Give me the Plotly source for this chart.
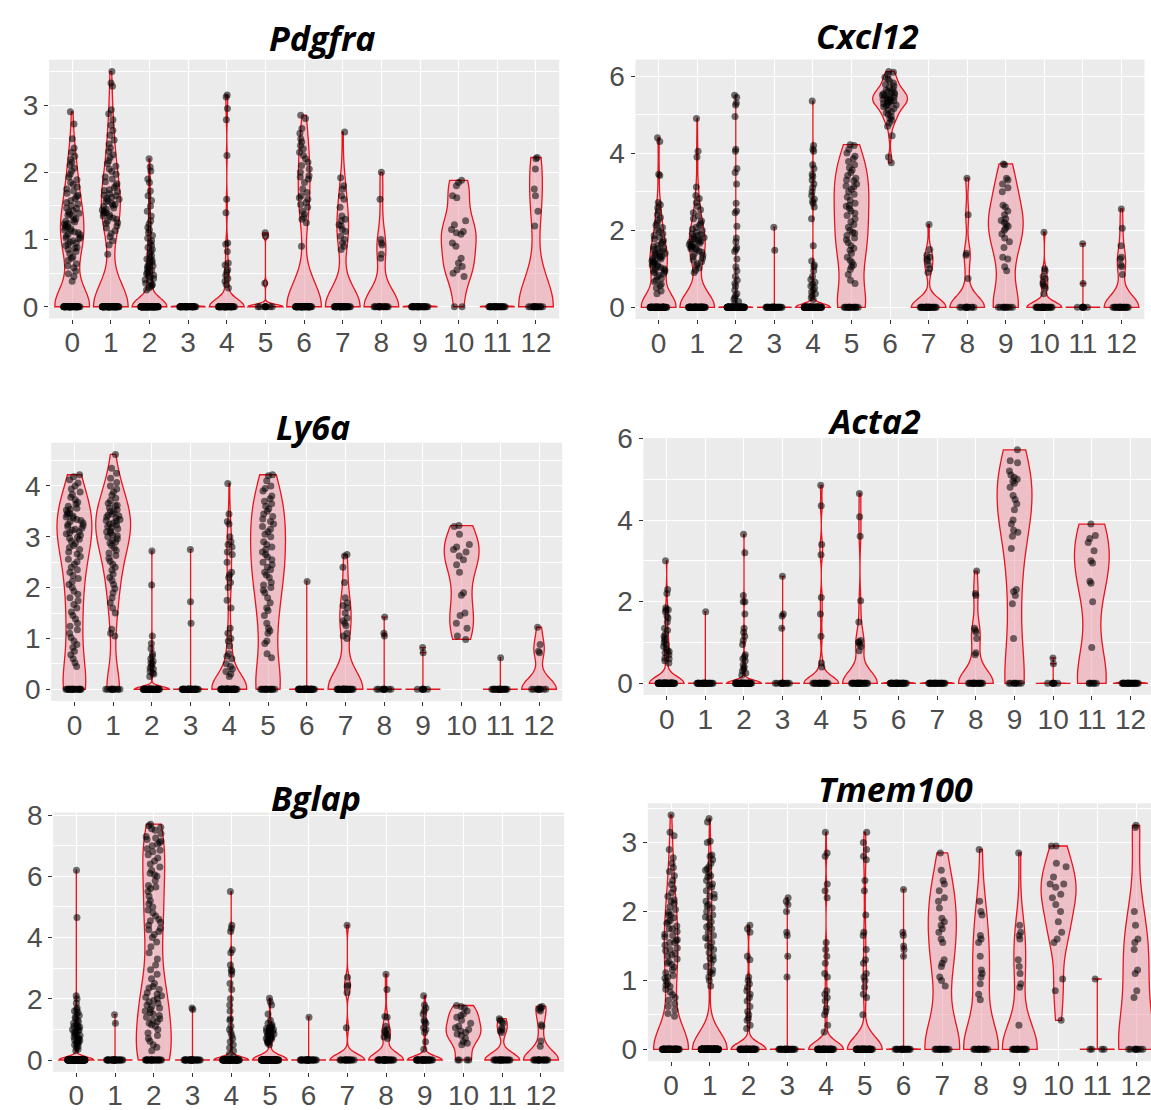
import numpy as np
import plotly.graph_objects as go

CLUSTERS = [str(i) for i in range(13)]
GENES = ["Pdgfra", "Cxcl12", "Ly6a", "Acta2", "Bglap", "Tmem100"]

# number of cells with zero expression per cluster
pdgfra_zeros = [50, 65, 100, 40, 45, 9, 55, 35, 18, 30, 2, 25, 14]
cxcl12_zeros = [60, 65, 110, 30, 90, 15, 0, 25, 12, 10, 25, 7, 20]
ly6a_zeros = [20, 12, 52, 40, 50, 15, 40, 30, 10, 7, 0, 20, 10]
acta2_zeros = [70, 30, 55, 13, 20, 25, 30, 25, 18, 8, 7, 6, 25]
bglap_zeros = [120, 30, 25, 30, 70, 80, 30, 17, 30, 35, 4, 22, 18]
tmem100_zeros = [70, 150, 55, 25, 55, 55, 19, 15, 16, 18, 0, 4, 9]

# non-zero expression values per cluster (read from the jittered points)
pdgfra_expr = [
    [0.38, 0.45, 0.49, 0.53, 0.58, 0.61, 0.64, 0.69, 0.72, 0.74, 0.79, 0.82, 0.85, 0.87, 0.91, 0.93, 0.96, 0.98,
     1.01, 1.03, 1.05, 1.07, 1.1, 1.11, 1.14, 1.16, 1.18, 1.21, 1.23, 1.24, 1.27, 1.29, 1.31, 1.34, 1.36, 1.38,
     1.41, 1.43, 1.46, 1.47, 1.5, 1.53, 1.55, 1.58, 1.61, 1.64, 1.66, 1.69, 1.72, 1.75, 1.78, 1.82, 1.85, 1.89,
     1.93, 1.97, 2.02, 2.06, 2.11, 2.15, 2.19, 2.24, 2.3, 2.36, 2.5, 2.72, 2.9, 0.88, 1.02, 1.13, 1.26, 1.39,
     0.95, 1.19, 1.08],
    [0.78, 0.92, 0.98, 1.04, 1.09, 1.13, 1.17, 1.2, 1.24, 1.27, 1.3, 1.32, 1.35, 1.37, 1.4, 1.42, 1.44, 1.47,
     1.49, 1.51, 1.54, 1.56, 1.58, 1.61, 1.63, 1.66, 1.68, 1.71, 1.74, 1.77, 1.8, 1.83, 1.86, 1.9, 1.93, 1.97,
     2.01, 2.05, 2.09, 2.13, 2.17, 2.22, 2.26, 2.31, 2.36, 2.42, 2.48, 2.55, 2.62, 2.7, 2.78, 2.87, 2.93, 3.28,
     3.33, 3.5, 1.45, 1.52, 1.6, 1.39, 1.34, 1.65, 1.25, 1.73],
    [0.25, 0.28, 0.3, 0.33, 0.35, 0.37, 0.4, 0.42, 0.44, 0.47, 0.49, 0.51, 0.54, 0.56, 0.59, 0.61, 0.63, 0.66,
     0.68, 0.71, 0.73, 0.76, 0.79, 0.82, 0.85, 0.88, 0.91, 0.95, 0.98, 1.02, 1.06, 1.1, 1.14, 1.18, 1.23, 1.28,
     1.35, 1.42, 1.5, 1.58, 1.65, 1.72, 1.85, 1.9, 2.02, 2.08, 2.2, 0.32, 0.46, 0.53, 0.6, 0.69],
    [],
    [0.28, 0.33, 0.38, 0.42, 0.47, 0.52, 0.55, 0.62, 0.65, 0.82, 0.93, 0.95, 1.4, 1.6, 2.25, 2.78, 2.95, 3.12, 3.15],
    [0.35, 1.05, 1.1],
    [0.9, 1.25, 1.3, 1.33, 1.38, 1.42, 1.48, 1.52, 1.55, 1.6, 1.62, 1.65, 1.7, 1.75, 1.85, 1.9, 1.93, 1.95, 2.0,
     2.05, 2.1, 2.15, 2.2, 2.25, 2.3, 2.35, 2.4, 2.45, 2.5, 2.58, 2.65, 2.8, 2.85],
    [0.85, 0.9, 0.95, 1.0, 1.05, 1.12, 1.15, 1.2, 1.22, 1.28, 1.3, 1.35, 1.48, 1.6, 1.65, 1.75, 1.8, 1.92, 2.6],
    [0.72, 0.78, 0.92, 0.95, 1.0, 1.6, 2.0],
    [],
    [0.45, 0.5, 0.55, 0.6, 0.65, 0.72, 0.9, 0.95, 1.08, 1.1, 1.12, 1.15, 1.22, 1.28, 1.62, 1.65, 1.8, 1.85, 1.88],
    [],
    [1.2, 1.42, 1.65, 1.75, 2.05, 2.2, 2.22],
]

cxcl12_expr = [
    [0.35, 0.42, 0.5, 0.56, 0.6, 0.66, 0.7, 0.75, 0.79, 0.83, 0.87, 0.9, 0.94, 0.97, 1.0, 1.03, 1.06, 1.09, 1.12,
     1.15, 1.18, 1.2, 1.23, 1.26, 1.29, 1.32, 1.35, 1.38, 1.41, 1.44, 1.47, 1.5, 1.54, 1.57, 1.61, 1.65, 1.69,
     1.73, 1.77, 1.82, 1.86, 1.91, 1.96, 2.01, 2.07, 2.13, 2.19, 2.26, 2.33, 2.41, 2.5, 2.58, 2.66, 2.72, 3.42,
     3.45, 4.3, 4.4, 1.1, 1.25, 1.4, 0.98, 1.33, 1.52, 0.92],
    [0.9, 0.96, 1.02, 1.08, 1.13, 1.18, 1.23, 1.27, 1.31, 1.35, 1.39, 1.43, 1.46, 1.5, 1.53, 1.56, 1.6, 1.63,
     1.66, 1.69, 1.72, 1.75, 1.78, 1.81, 1.84, 1.88, 1.91, 1.95, 1.99, 2.03, 2.08, 2.13, 2.18, 2.24, 2.3, 2.37,
     2.45, 2.53, 2.62, 2.72, 2.82, 2.9, 3.12, 3.9, 4.05, 4.9, 1.58, 1.7, 1.86, 1.64, 1.77, 1.52],
    [0.1, 0.15, 0.2, 0.25, 0.3, 0.35, 0.45, 0.55, 0.62, 0.7, 0.8, 0.95, 1.05, 1.25, 1.45, 1.5, 1.55, 1.7, 1.8,
     2.1, 2.45, 2.5, 2.7, 3.2, 3.5, 3.6, 4.05, 4.1, 4.95, 5.25, 5.3, 5.45, 5.5],
    [1.48, 2.08],
    [0.2, 0.25, 0.3, 0.35, 0.4, 0.45, 0.5, 0.55, 0.6, 0.65, 0.72, 0.8, 0.95, 1.05, 1.1, 1.2, 1.6, 2.3, 2.6, 2.7,
     2.75, 2.8, 2.9, 3.0, 3.1, 3.2, 3.3, 3.4, 3.45, 3.6, 3.7, 4.05, 4.1, 4.2, 5.35],
    [0.62, 0.7, 0.85, 0.98, 1.05, 1.1, 1.16, 1.22, 1.3, 1.4, 1.48, 1.53, 1.6, 1.68, 1.75, 1.8, 1.86, 1.92, 2.0,
     2.08, 2.15, 2.22, 2.3, 2.38, 2.44, 2.5, 2.56, 2.62, 2.7, 2.78, 2.86, 2.93, 3.0, 3.06, 3.12, 3.2, 3.28, 3.35,
     3.42, 3.5, 3.56, 3.62, 3.7, 3.78, 3.86, 3.92, 4.0, 4.1, 4.2, 4.22, 1.95, 2.65, 3.15, 3.3],
    [3.75, 3.9, 4.45, 4.7, 4.78, 4.85, 4.9, 4.95, 5.0, 5.04, 5.08, 5.12, 5.16, 5.2, 5.23, 5.26, 5.29, 5.32, 5.35,
     5.38, 5.4, 5.43, 5.46, 5.48, 5.51, 5.54, 5.57, 5.6, 5.63, 5.66, 5.7, 5.74, 5.78, 5.82, 5.87, 5.92, 5.97,
     6.03, 6.1, 6.12, 5.36, 5.44, 5.52, 5.3, 5.58, 5.25, 5.41],
    [0.9, 1.0, 1.1, 1.2, 1.25, 1.3, 1.35, 1.5, 2.15],
    [0.75, 1.35, 1.4, 2.4, 3.35],
    [0.95, 1.05, 1.25, 1.3, 1.55, 1.7, 1.8, 1.9, 2.0, 2.05, 2.1, 2.15, 2.2, 2.25, 2.3, 2.4, 2.5, 2.6, 2.65, 3.0,
     3.1, 3.2, 3.3, 3.35, 3.7, 3.72],
    [0.35, 0.5, 0.55, 0.6, 0.65, 0.75, 0.8, 0.95, 1.0, 1.95],
    [0.62, 1.65],
    [0.85, 1.05, 1.1, 1.25, 1.3, 1.6, 2.05, 2.55],
]

ly6a_expr = [
    [0.45, 0.52, 0.6, 0.68, 0.75, 0.82, 0.88, 0.95, 1.02, 1.1, 1.17, 1.24, 1.3, 1.38, 1.45, 1.52, 1.6, 1.67, 1.74,
     1.8, 1.87, 1.93, 2.0, 2.06, 2.12, 2.18, 2.24, 2.3, 2.35, 2.4, 2.46, 2.51, 2.56, 2.61, 2.66, 2.7, 2.75, 2.79,
     2.83, 2.87, 2.91, 2.95, 2.99, 3.03, 3.06, 3.1, 3.13, 3.17, 3.2, 3.24, 3.27, 3.3, 3.34, 3.37, 3.41, 3.44,
     3.48, 3.52, 3.56, 3.6, 3.64, 3.68, 3.73, 3.78, 3.83, 3.88, 3.94, 4.0, 4.06, 4.12, 4.18, 4.22, 3.15, 3.22,
     3.32, 3.39, 3.46, 2.97, 3.08, 3.54],
    [1.05, 1.1, 1.18, 1.5, 1.6, 1.7, 1.8, 1.9, 1.98, 2.06, 2.14, 2.2, 2.27, 2.34, 2.4, 2.46, 2.52, 2.58, 2.63,
     2.68, 2.73, 2.78, 2.83, 2.88, 2.92, 2.96, 3.0, 3.04, 3.08, 3.12, 3.16, 3.2, 3.23, 3.27, 3.3, 3.34, 3.37,
     3.41, 3.45, 3.49, 3.53, 3.57, 3.61, 3.66, 3.71, 3.76, 3.82, 3.88, 3.94, 4.0, 4.07, 4.15, 4.25, 4.35, 4.62,
     3.18, 3.25, 3.32, 3.39, 3.1, 3.43, 3.02, 2.9, 3.5, 3.62],
    [0.25, 0.3, 0.32, 0.35, 0.4, 0.42, 0.45, 0.5, 0.52, 0.55, 0.6, 0.65, 0.7, 0.8, 0.9, 1.05, 2.05, 2.72],
    [1.3, 1.72, 2.75],
    [0.25, 0.3, 0.35, 0.4, 0.45, 0.5, 0.6, 0.65, 0.7, 0.85, 0.95, 1.0, 1.1, 1.2, 1.6, 1.75, 2.0, 2.1, 2.2, 2.25,
     2.3, 2.5, 2.65, 2.7, 2.8, 2.85, 2.9, 3.0, 3.25, 3.3, 3.45, 4.05],
    [0.62, 0.7, 0.9, 0.95, 1.1, 1.15, 1.2, 1.3, 1.45, 1.55, 1.6, 1.7, 1.8, 1.9, 1.95, 2.0, 2.05, 2.1, 2.2, 2.3,
     2.35, 2.4, 2.45, 2.5, 2.6, 2.65, 2.7, 2.8, 2.85, 2.9, 3.0, 3.1, 3.15, 3.2, 3.3, 3.35, 3.4, 3.5, 3.55, 3.6,
     3.7, 3.75, 3.8, 3.9, 3.95, 4.0, 4.1, 4.2, 4.22, 2.55, 2.75, 3.05, 3.25, 3.45, 3.65, 2.25],
    [2.12],
    [1.0, 1.05, 1.1, 1.25, 1.3, 1.35, 1.4, 1.5, 1.6, 1.65, 1.7, 1.8, 2.1, 2.4, 2.62, 2.65],
    [1.05, 1.1, 1.42],
    [0.72, 0.82],
    [0.98, 1.05, 1.2, 1.3, 1.45, 1.5, 1.85, 1.9, 2.3, 2.45, 2.55, 2.62, 2.7, 2.75, 2.8, 2.85, 3.05, 3.2, 3.22],
    [0.62],
    [0.72, 0.75, 0.88, 1.22],
]

acta2_expr = [
    [0.5, 0.55, 0.6, 0.62, 0.7, 0.75, 0.78, 0.8, 0.85, 0.9, 0.95, 1.0, 1.05, 1.1, 1.15, 1.2, 1.3, 1.35, 1.5, 1.6,
     1.65, 1.75, 1.8, 1.8, 1.85, 2.2, 2.3, 3.0],
    [1.75],
    [0.2, 0.25, 0.3, 0.35, 0.4, 0.45, 0.55, 0.6, 0.65, 0.7, 0.95, 1.05, 1.15, 1.25, 1.35, 1.7, 2.0, 2.0, 2.15,
     3.2, 3.65],
    [1.35, 1.65, 1.7, 2.62],
    [0.4, 0.5, 1.15, 1.7, 2.1, 3.15, 3.4, 4.35, 4.85],
    [0.8, 0.9, 0.95, 1.0, 1.02, 1.05, 1.5, 2.02, 3.6, 4.08, 4.65],
    [],
    [],
    [0.7, 0.75, 1.1, 1.25, 1.3, 1.35, 2.15, 2.2, 2.75],
    [1.1, 1.95, 2.15, 2.25, 2.3, 3.3, 3.6, 3.7, 3.75, 3.9, 4.0, 4.25, 4.4, 4.5, 4.6, 4.8, 4.9, 4.95, 5.0, 5.05,
     5.1, 5.2, 5.4, 5.45, 5.72],
    [0.48, 0.62],
    [0.88, 2.0, 2.45, 2.5, 2.95, 3.0, 3.25, 3.45, 3.55, 3.62, 3.9],
    [],
]

bglap_expr = [
    [0.3, 0.35, 0.4, 0.45, 0.5, 0.52, 0.55, 0.6, 0.63, 0.66, 0.7, 0.72, 0.75, 0.8, 0.83, 0.86, 0.9, 0.95, 0.98,
     1.0, 1.05, 1.08, 1.1, 1.15, 1.2, 1.25, 1.3, 1.35, 1.4, 1.45, 1.5, 1.55, 1.6, 1.65, 1.7, 1.85, 2.0, 2.1,
     4.65, 6.2, 0.68, 0.92, 1.12, 0.58],
    [1.2, 1.48],
    [0.3, 0.42, 0.5, 0.61, 0.7, 0.8, 0.88, 1.0, 1.1, 1.2, 1.3, 1.35, 1.4, 1.5, 1.55, 1.6, 1.7, 1.75, 1.8, 1.85,
     1.9, 2.0, 2.05, 2.1, 2.2, 2.3, 2.4, 2.5, 2.65, 2.8, 2.95, 3.1, 3.3, 3.5, 3.7, 3.85, 4.0, 4.1, 4.2, 4.3,
     4.4, 4.5, 4.6, 4.7, 4.8, 4.9, 5.0, 5.1, 5.2, 5.35, 5.5, 5.6, 5.7, 5.85, 6.0, 6.1, 6.2, 6.3, 6.4, 6.5, 6.6,
     6.7, 6.8, 6.9, 7.0, 7.05, 7.1, 7.2, 7.3, 7.4, 7.5, 7.6, 7.7, 1.45, 1.65, 1.95, 2.15, 2.35, 1.25, 1.15,
     4.25, 4.55, 6.85, 7.15, 7.25, 7.55, 7.65, 5.65, 6.05],
    [1.65, 1.7],
    [0.1, 0.2, 0.3, 0.4, 0.5, 0.6, 0.7, 0.8, 0.9, 1.0, 1.1, 1.3, 1.35, 1.6, 1.8, 2.0, 2.3, 2.5, 2.8, 2.9, 2.95,
     3.1, 3.5, 3.6, 4.2, 4.3, 4.4, 5.5],
    [0.5, 0.55, 0.58, 0.6, 0.62, 0.65, 0.68, 0.7, 0.72, 0.75, 0.78, 0.8, 0.83, 0.85, 0.88, 0.9, 0.93, 0.95, 0.98,
     1.0, 1.03, 1.05, 1.08, 1.1, 1.15, 1.2, 1.3, 1.5, 1.8, 1.9, 2.02],
    [1.4],
    [1.05, 2.2, 2.4, 2.45, 2.7, 4.4],
    [0.7, 0.75, 0.8, 0.85, 0.9, 0.95, 1.0, 1.1, 1.4, 1.42, 2.3, 2.8],
    [0.35, 0.6, 0.9, 1.0, 1.05, 1.2, 1.25, 1.3, 1.5, 1.6, 1.7, 1.8, 2.1],
    [0.5, 0.55, 0.6, 0.7, 0.8, 0.85, 0.9, 0.95, 1.0, 1.05, 1.1, 1.2, 1.3, 1.4, 1.45, 1.5, 1.6, 1.7, 1.75, 1.78],
    [0.9, 0.95, 1.0, 1.05, 1.2, 1.25, 1.3, 1.35],
    [0.45, 0.62, 1.1, 1.15, 1.6, 1.65, 1.7, 1.72, 1.75],
]

tmem100_expr = [
    [0.48, 0.52, 0.57, 0.62, 0.66, 0.71, 0.75, 0.79, 0.83, 0.87, 0.91, 0.95, 0.99, 1.03, 1.07, 1.11, 1.15, 1.19,
     1.23, 1.27, 1.31, 1.35, 1.39, 1.43, 1.47, 1.51, 1.55, 1.59, 1.63, 1.67, 1.71, 1.75, 1.79, 1.83, 1.87, 1.91,
     1.95, 1.99, 2.03, 2.07, 2.12, 2.17, 2.22, 2.27, 2.33, 2.39, 2.45, 2.52, 2.58, 2.64, 2.7, 2.78, 2.9, 3.1,
     3.15, 3.4, 1.25, 1.45, 1.65, 1.85, 1.05, 1.55, 1.75, 0.93, 2.15, 1.37, 1.58, 1.95],
    [0.92, 1.0, 1.05, 1.1, 1.15, 1.2, 1.25, 1.3, 1.35, 1.4, 1.45, 1.5, 1.55, 1.6, 1.65, 1.7, 1.75, 1.8, 1.85,
     1.9, 1.95, 2.0, 2.05, 2.1, 2.15, 2.2, 2.25, 2.3, 2.35, 2.4, 2.45, 2.5, 2.55, 2.6, 2.65, 2.7, 2.75, 2.8,
     2.82, 3.0, 3.02, 3.3, 3.35, 1.62, 1.78, 1.92, 2.08, 2.22, 2.38, 2.52, 1.48, 1.32, 2.62, 1.12],
    [0.3, 0.35, 0.42, 0.45, 0.5, 0.55, 0.62, 0.7, 0.75, 0.8, 0.85, 0.9, 0.95, 1.0, 1.05, 1.3, 1.35, 1.7, 1.75, 1.8],
    [1.05, 1.35, 1.65, 1.7, 2.0, 2.1, 2.15, 2.2],
    [0.25, 0.35, 0.5, 0.55, 0.6, 0.7, 0.75, 0.8, 0.85, 1.05, 1.1, 1.25, 1.35, 1.45, 1.55, 2.2, 2.3, 2.4, 2.8,
     2.85, 3.15],
    [0.5, 0.75, 0.8, 0.9, 1.0, 1.05, 1.1, 1.25, 1.3, 1.45, 1.65, 1.7, 1.95, 2.3, 2.45, 2.75, 2.8, 2.9, 3.0, 3.15],
    [1.35, 1.45, 1.5, 1.65, 1.7, 2.32],
    [0.92, 1.0, 1.05, 1.2, 1.25, 1.3, 1.55, 1.6, 1.7, 1.75, 1.8, 1.85, 1.9, 2.05, 2.15, 2.2, 2.3, 2.4, 2.45, 2.6,
     2.85],
    [0.72, 0.8, 0.95, 1.05, 1.1, 1.15, 1.35, 1.55, 1.6, 1.65, 1.95, 2.0, 2.15, 2.9],
    [0.35, 0.9, 0.95, 1.1, 1.2, 1.3, 1.6, 1.65, 1.7, 1.8, 2.85],
    [0.42, 0.85, 1.02, 1.55, 1.6, 1.7, 1.85, 2.0, 2.1, 2.2, 2.25, 2.35, 2.4, 2.4, 2.5, 2.65, 2.7, 2.95, 2.95],
    [1.02],
    [0.75, 0.85, 1.1, 1.15, 1.45, 1.55, 1.6, 1.8, 2.0, 3.22, 3.25],
]

ZEROS = {"Pdgfra": pdgfra_zeros, "Cxcl12": cxcl12_zeros, "Ly6a": ly6a_zeros,
         "Acta2": acta2_zeros, "Bglap": bglap_zeros, "Tmem100": tmem100_zeros}
EXPR = {"Pdgfra": pdgfra_expr, "Cxcl12": cxcl12_expr, "Ly6a": ly6a_expr,
        "Acta2": acta2_expr, "Bglap": bglap_expr, "Tmem100": tmem100_expr}
YTICK_STEP = {"Pdgfra": 1, "Cxcl12": 2, "Ly6a": 1, "Acta2": 2, "Bglap": 2, "Tmem100": 1}

# ---------------- layout (pixel boxes of each panel) ----------------
W, H = 1151, 1110
# left, right, top, bottom of the grey panel, px per category
BOX = {
    "Pdgfra": (49.0, 559.2, 59.7, 318.5, 38.65),
    "Cxcl12": (635.5, 1144.5, 59.6, 319.1, 38.57),
    "Ly6a": (51.2, 562.2, 442.7, 701.0, 38.72),
    "Acta2": (643.5, 1151.0, 438.1, 695.0, 38.65),
    "Bglap": (53.1, 564.1, 812.4, 1071.8, 38.72),
    "Tmem100": (647.8, 1151.0, 803.3, 1061.0, 38.75),
}
TITLE_POS = {
    "Pdgfra": (322, 38), "Cxcl12": (867, 36), "Ly6a": (313, 427),
    "Acta2": (874, 421), "Bglap": (316, 798), "Tmem100": (895, 789),
}

RED = "#E8141E"
FILL = "rgba(240,150,165,0.5)"
TICK_FONT = dict(family="Liberation Sans, Arial, sans-serif", size=28, color="#4D4D4D")


def nrd0(v):
    """R's bw.nrd0; groups whose IQR collapses get a tiny bandwidth (as Seurat's jitter noise does)."""
    v = np.asarray(v, dtype=float)
    n = len(v)
    hi = np.std(v, ddof=1)
    q1, q3 = np.percentile(v, [25, 75])
    lo = min(hi, (q3 - q1) / 1.34)
    if lo <= 0:
        return (v.max() - v.min()) / 400.0
    return 0.9 * lo * n ** -0.2


fig = go.Figure()
layout = {}

for gi, gene in enumerate(GENES):
    sfx = "" if gi == 0 else str(gi + 1)
    zeros = ZEROS[gene]
    expr = EXPR[gene]
    ymax = max(max(e) if e else 0 for e in expr)
    yrange = [-0.05 * ymax, 1.05 * ymax]

    for ci, lab in enumerate(CLUSTERS):
        vals = [0.0] * zeros[ci] + list(expr[ci])
        if len(expr[ci]) == 0:
            eps = ymax * 0.004
            kw = dict(bandwidth=eps, spanmode="manual", span=[0, eps])
        else:
            kw = dict(bandwidth=nrd0(vals), spanmode="hard")
        fig.add_trace(go.Violin(
            x=[lab] * len(vals), y=vals, name=lab,
            xaxis="x" + sfx, yaxis="y" + sfx,
            points="all", pointpos=0, jitter=0.5,
            scalemode="width", width=0.9, side="both",
            line=dict(color=RED, width=1.3), fillcolor=FILL,
            marker=dict(color="rgba(0,0,0,0.55)", size=7, line=dict(width=0)),
            box_visible=False, meanline_visible=False,
            showlegend=False, hoverinfo="skip", **kw,
        ))

    l, r, t, b, s = BOX[gene]
    xr = -0.6 + (r - l) / s
    layout["xaxis" + sfx] = dict(
        domain=[l / W, r / W], anchor="y" + sfx, type="category",
        categoryorder="array", categoryarray=CLUSTERS, range=[-0.6, xr],
        showgrid=True, gridcolor="white", gridwidth=1.3, zeroline=False, showline=False,
        ticks="outside", ticklen=4, tickwidth=1, tickcolor="#333333",
        tickfont=TICK_FONT, ticklabelstandoff=-5, fixedrange=True, automargin=False,
    )
    step = YTICK_STEP[gene]
    layout["yaxis" + sfx] = dict(
        domain=[1 - b / H, 1 - t / H], anchor="x" + sfx, range=yrange,
        tickmode="linear", tick0=0, dtick=step,
        showgrid=True, gridcolor="white", gridwidth=1.3, zeroline=False, showline=False,
        minor=dict(dtick=step / 2, tick0=0, showgrid=True, gridcolor="white", gridwidth=0.6, ticks=""),
        ticks="outside", ticklen=4, tickwidth=1, tickcolor="#333333",
        tickfont=TICK_FONT, fixedrange=True, automargin=False,
    )

annotations = []
for gene in GENES:
    tx, ty = TITLE_POS[gene]
    annotations.append(dict(
        text=gene, x=tx / W, y=1 - ty / H, xref="paper", yref="paper",
        xanchor="center", yanchor="middle", showarrow=False,
        font=dict(family="Open Sans, sans-serif", size=34, color="black", weight="bold", style="italic"),
    ))

fig.update_layout(
    width=W, height=H, margin=dict(l=0, r=0, t=0, b=0, pad=0, autoexpand=False),
    paper_bgcolor="white", plot_bgcolor="#EBEBEB",
    violinmode="overlay", violingap=0, violingroupgap=0,
    annotations=annotations, showlegend=False, **layout,
)

fig.write_html(
    "out.html",
    config={"displayModeBar": False},
    post_script="document.body.style.margin='0px';document.body.style.overflow='hidden';",
)
